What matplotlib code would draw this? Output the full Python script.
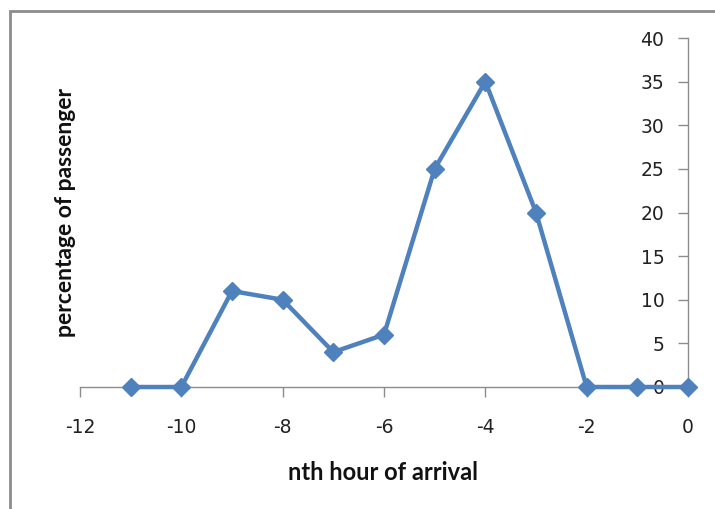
import matplotlib
matplotlib.use("Agg")
import matplotlib.pyplot as plt
from matplotlib.patches import Rectangle

hours = [-11, -10, -9, -8, -7, -6, -5, -4, -3, -2, -1, 0]
percent = [0, 0, 11, 10, 4, 6, 25, 35, 20, 0, 0, 0]
x_ticks = [-12, -10, -8, -6, -4, -2, 0]
y_ticks = [0, 5, 10, 15, 20, 25, 30, 35, 40]

W, H = 715, 509
fig = plt.figure(figsize=(W / 100, H / 100), dpi=100)
fig.patch.set_facecolor("white")

# outer chart border (cut off at right and bottom)
fig.patches.append(Rectangle((10 / W, -0.1), 1.2, 1 - 11 / H + 0.1,
                             transform=fig.transFigure, fill=False,
                             edgecolor="#8c8c8c", linewidth=2.0))

ax = fig.add_axes([80 / W, 1 - 387 / H, (688 - 80) / W, (387 - 38) / H])
ax.plot(hours, percent, color="#4F81BD", linewidth=3.2, marker="D",
        markersize=9, markeredgecolor="#4F81BD", markerfacecolor="#4F81BD",
        clip_on=False, zorder=5)

ax.set_xlim(-12, 0)
ax.set_ylim(0, 40)
ax.set_xticks(x_ticks)
ax.set_yticks(y_ticks)
ax.set_xticklabels([str(v) for v in x_ticks])
ax.set_yticklabels([str(v) for v in y_ticks])

ax.spines["top"].set_visible(False)
ax.spines["right"].set_visible(False)
ax.spines["left"].set_position(("data", 0))
for s in ("left", "bottom"):
    ax.spines[s].set_color("#8c8c8c")
    ax.spines[s].set_linewidth(1.0)

ax.tick_params(axis="both", direction="out", length=7, width=1.0,
               color="#8c8c8c", labelsize=13.5, labelcolor="#222222")
ax.tick_params(axis="x", pad=15)
ax.tick_params(axis="y", pad=10)
for lbl in ax.get_xticklabels() + ax.get_yticklabels():
    lbl.set_fontfamily("DejaVu Sans")

fig.text(383 / W, 1 - 473 / H, "nth hour of arrival", ha="center", va="center",
         fontsize=17, fontweight="bold", family="Lato", color="#111111")
fig.text(65 / W, 1 - 212 / H, "percentage of passenger", ha="center", va="center",
         rotation=90, fontsize=16.5, fontweight="bold", family="Lato", color="#111111")

fig.savefig("out.png", dpi=100, facecolor="white")
